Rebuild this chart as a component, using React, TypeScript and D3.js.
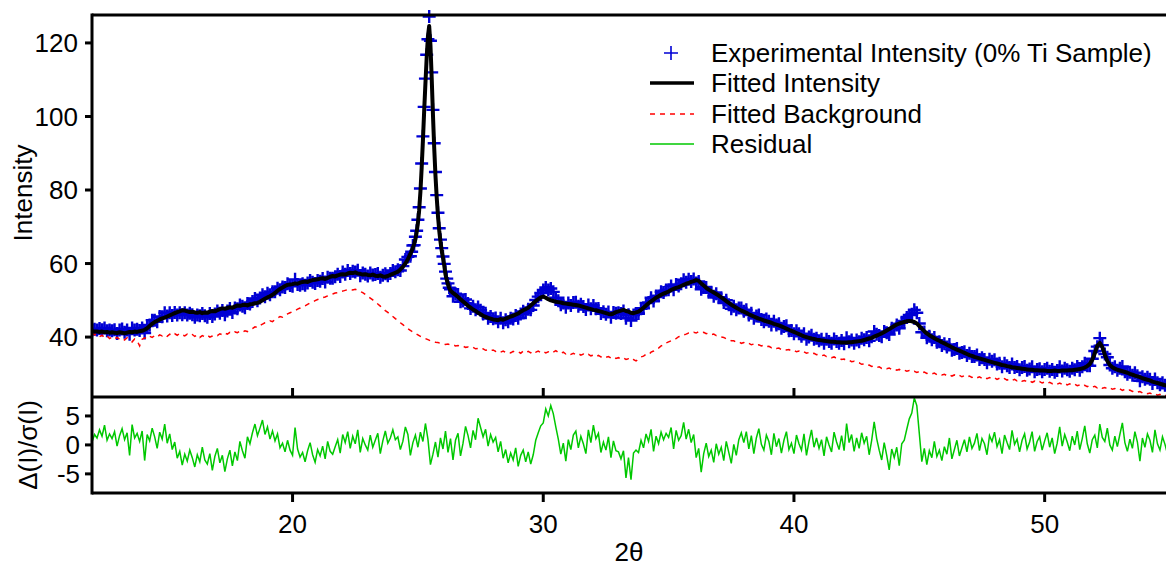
import React from 'react';
import * as d3 from 'd3';

// 2theta grids: 0.1 deg everywhere, 0.05 deg across the anatase (101) peak
const LEFT_START = 12.0;
const PEAK_START = 24.75;
const RIGHT_START = 26.3;
const STEP = 0.1;
const PEAK_STEP = 0.05;

// fitted intensity
const fitLeft = [
  41.6, 41.5, 41.5, 41.4, 41.5, 41.3, 41.4, 41.2, 41.3, 41.2,
  41.1, 41.3, 41.2, 41.0, 41.2, 41.4, 41.3, 41.5, 41.4, 41.6,
  41.7, 42.0, 42.4, 43.0, 43.6, 44.1, 44.4, 44.8, 45.1, 45.3,
  45.6, 45.9, 46.2, 46.5, 46.8, 47.0, 47.3, 47.2, 47.0, 46.8,
  46.9, 46.7, 46.6, 46.8, 46.5, 46.7, 46.6, 46.9, 47.1, 47.0,
  47.3, 47.6, 47.8, 47.7, 47.9, 48.1, 48.0, 48.3, 48.6, 48.5,
  48.7, 48.8, 48.6, 48.9, 49.0, 49.2, 49.3, 49.6, 50.0, 50.4,
  50.8, 51.1, 51.5, 52.0, 52.6, 53.1, 53.5, 53.9, 54.2, 54.3,
  54.4, 54.6, 54.5, 54.8, 55.0, 55.1, 55.0, 55.3, 55.5, 55.6,
  55.7, 55.9, 56.0, 55.8, 56.1, 56.4, 56.6, 56.5, 56.8, 57.0,
  57.1, 57.0, 57.3, 57.5, 57.4, 57.6, 57.3, 57.2, 57.0, 57.1,
  56.9, 56.8, 57.0, 56.7, 56.6, 56.8, 56.5, 56.4, 56.6, 56.9,
  57.2, 57.5, 57.8, 58.4, 59.1, 60.0, 61.2, 62.6,
];
const fitPeak = [
  63.4, 64.3, 65.3, 66.6, 68.5, 71.0, 74.5, 79.5, 86.0, 93.5,
  101.5, 109.0, 116.0, 121.8, 124.6, 119.5, 110.5, 100.5, 91.5, 84.0,
  78.0, 73.0, 69.0, 66.0, 63.5, 61.5, 59.5, 57.0, 55.6, 54.3, 53.3,
];
const fitRight = [
  52.6, 52.0, 51.5, 50.9, 50.3, 49.7, 49.1,
  48.5, 48.0, 47.5, 47.1, 46.6, 46.2, 45.8, 45.5, 45.2, 45.0,
  44.8, 44.7, 44.6, 44.9, 44.7, 45.0, 45.3, 45.6, 45.8, 46.1,
  46.4, 46.9, 47.3, 47.6, 48.0, 48.6, 49.2, 49.8, 50.3, 50.8,
  51.0, 50.7, 50.3, 50.0, 49.8, 49.6, 49.5, 49.4, 49.2, 49.1,
  49.0, 48.9, 48.8, 48.7, 48.6, 48.4, 48.2, 48.0, 47.8, 47.6,
  47.4, 47.3, 47.1, 46.9, 46.7, 46.5, 46.3, 46.2, 46.4, 46.8,
  47.0, 47.2, 47.4, 47.1, 46.9, 46.6, 46.5, 46.7, 46.9, 47.4,
  48.0, 48.6, 49.2, 49.7, 50.2, 50.7, 51.1, 51.5, 51.8, 52.1,
  52.4, 52.8, 53.1, 53.4, 53.6, 53.9, 54.2, 54.5, 54.7, 55.0,
  55.2, 55.5, 55.3, 54.6, 54.0, 53.4, 52.9, 52.5, 52.1, 51.7,
  51.3, 50.8, 50.3, 49.8, 49.3, 48.8, 48.4, 48.0, 47.6, 47.2,
  46.9, 46.6, 46.2, 45.9, 45.6, 45.3, 45.0, 44.8, 44.5, 44.3,
  44.1, 43.9, 43.6, 43.4, 43.2, 42.9, 42.6, 42.3, 42.0, 41.7,
  41.4, 41.1, 40.8, 40.5, 40.2, 40.0, 39.8, 39.6, 39.5, 39.3,
  39.2, 39.1, 39.0, 38.9, 38.8, 38.7, 38.7, 38.6, 38.6, 38.5,
  38.5, 38.5, 38.6, 38.6, 38.7, 38.8, 38.9, 39.0, 39.2, 39.4,
  39.6, 39.8, 40.1, 40.4, 40.7, 41.0, 41.4, 41.8, 42.2, 42.6,
  43.0, 43.4, 43.7, 43.9, 44.1, 44.3, 44.4, 44.3, 44.1, 43.7,
  43.0, 42.3, 41.6, 41.0, 40.5, 40.1, 39.7, 39.3, 39.0, 38.6,
  38.3, 37.9, 37.6, 37.2, 36.9, 36.6, 36.3, 36.0, 35.7, 35.4,
  35.1, 34.9, 34.6, 34.4, 34.2, 34.0, 33.8, 33.6, 33.4, 33.2,
  33.0, 32.8, 32.6, 32.4, 32.3, 32.1, 32.0, 31.8, 31.7, 31.6,
  31.5, 31.4, 31.3, 31.2, 31.1, 31.1, 31.0, 31.0, 30.9, 30.9,
  30.9, 30.8, 30.8, 30.8, 30.9, 30.8, 30.8, 30.9, 30.9, 30.9,
  31.0, 31.0, 31.1, 31.2, 31.3, 31.5, 31.7, 32.1, 32.7, 33.8,
  35.6, 37.6, 38.4, 37.3, 35.2, 33.5, 32.4, 31.8, 31.4, 31.1,
  30.9, 30.7, 30.5, 30.3, 30.0, 29.8, 29.5, 29.3, 29.1, 28.8,
  28.6, 28.4, 28.2, 27.9, 27.7, 27.5, 27.3, 27.1, 26.9, 26.7,
  26.5,
];

// experimental intensity
const obsLeft = [
  41.8, 42.1, 41.9, 42.3, 42.0, 42.5, 41.7, 41.9, 41.7, 42.0,
  41.0, 41.9, 42.2, 41.3, 41.9, 40.8, 42.5, 41.9, 42.1, 41.8,
  42.5, 41.1, 43.0, 43.3, 44.6, 44.6, 44.2, 45.6, 45.5, 46.6,
  45.7, 46.6, 45.9, 46.7, 46.0, 46.6, 46.1, 46.6, 46.0, 46.5,
  46.1, 45.4, 46.0, 45.8, 46.4, 45.8, 45.4, 46.4, 45.6, 46.3,
  47.1, 46.5, 47.2, 46.1, 47.1, 47.8, 46.7, 47.9, 47.7, 48.7,
  48.4, 48.0, 49.1, 49.0, 49.7, 50.5, 49.9, 50.6, 51.5, 51.0,
  51.9, 51.5, 52.3, 52.3, 53.3, 52.9, 53.6, 53.5, 54.5, 54.0,
  53.8, 55.7, 54.3, 54.1, 54.5, 54.1, 54.7, 55.4, 54.9, 54.6,
  55.4, 55.2, 55.9, 55.0, 56.3, 56.0, 56.0, 56.4, 57.1, 56.5,
  57.7, 57.1, 58.1, 57.3, 57.9, 57.7, 58.2, 56.7, 57.4, 57.1,
  56.6, 57.4, 56.9, 57.0, 57.3, 56.3, 56.8, 57.2, 56.7, 57.3,
  58.1, 57.8, 58.3, 58.1, 59.3, 61.1, 61.8, 62.0,
];
const obsPeak = [
  63.2, 64.9, 65.0, 67.3, 68.9, 71.9, 75.3, 80.4, 87.2, 94.6,
  102.6, 110.3, 116.8, 121.0, 127.2, 120.6, 112.0, 101.8, 92.7, 84.9,
  78.6, 73.8, 69.6, 66.5, 64.2, 61.9, 59.9, 57.8, 55.9, 54.6, 53.4,
];
const obsRight = [
  53.0, 51.1, 51.8, 51.6, 49.6, 49.8, 50.2,
  49.1, 47.8, 48.4, 47.4, 48.2, 47.3, 46.3, 46.5, 45.1, 45.6,
  45.0, 45.2, 44.2, 45.1, 43.9, 44.7, 44.2, 45.1, 44.9, 45.9,
  45.1, 46.3, 47.0, 46.6, 47.6, 47.4, 48.6, 50.1, 51.0, 52.0,
  52.8, 53.5, 52.8, 53.2, 52.3, 50.7, 49.9, 48.8, 49.3, 48.1,
  49.3, 48.6, 49.4, 49.5, 48.4, 48.9, 48.3, 47.5, 48.7, 47.7,
  48.6, 47.7, 47.8, 46.4, 46.9, 46.2, 46.8, 45.4, 46.7, 46.5,
  46.6, 46.4, 47.1, 45.1, 46.1, 44.5, 46.0, 46.4, 46.4, 47.7,
  47.8, 49.3, 49.4, 50.7, 49.8, 51.2, 51.2, 52.3, 52.1, 52.8,
  52.9, 53.9, 52.9, 54.3, 53.9, 54.5, 55.6, 54.9, 55.7, 55.1,
  55.8, 54.7, 55.1, 53.0, 53.5, 53.5, 52.2, 52.2, 51.1, 51.8,
  50.7, 50.7, 49.4, 50.0, 48.8, 47.7, 48.4, 47.4, 47.9, 47.9,
  47.0, 47.4, 46.0, 46.5, 45.1, 45.7, 46.0, 44.8, 44.2, 44.9,
  44.3, 43.3, 44.3, 43.3, 43.6, 42.4, 42.9, 43.1, 41.7, 41.8,
  40.9, 41.7, 40.9, 40.2, 40.9, 39.4, 40.0, 40.5, 39.4, 39.7,
  39.0, 39.4, 38.3, 39.4, 38.8, 38.3, 39.5, 38.8, 38.3, 39.1,
  38.2, 39.8, 38.7, 39.2, 38.3, 39.2, 38.7, 39.7, 39.3, 39.9,
  39.0, 40.1, 41.5, 40.8, 40.4, 40.1, 41.5, 41.2, 40.7, 42.4,
  42.2, 43.3, 42.4, 44.0, 44.4, 45.3, 46.0, 46.2, 47.4, 46.6,
  43.7, 41.3, 41.4, 39.8, 40.2, 39.3, 39.9, 38.6, 38.7, 37.7,
  38.2, 37.3, 38.0, 36.4, 36.6, 36.9, 35.6, 35.8, 36.0, 35.0,
  35.6, 34.7, 34.7, 35.1, 33.9, 34.4, 33.9, 33.0, 34.0, 33.4,
  33.8, 32.7, 32.9, 31.9, 32.9, 32.2, 31.7, 32.7, 31.7, 32.0,
  31.1, 31.7, 32.0, 31.0, 31.3, 31.9, 30.6, 31.2, 31.4, 30.6,
  31.2, 31.5, 30.7, 31.2, 30.4, 30.9, 31.9, 30.8, 31.5, 31.1,
  30.7, 31.5, 31.1, 32.0, 31.0, 31.9, 32.9, 32.2, 32.2, 34.1,
  36.2, 37.4, 39.7, 37.8, 35.4, 34.5, 32.4, 31.5, 31.9, 31.0,
  31.5, 32.0, 30.6, 29.9, 30.4, 29.6, 30.3, 29.5, 28.1, 29.2,
  28.5, 29.1, 28.5, 27.4, 28.6, 27.6, 27.0, 27.6, 26.9, 26.1,
  26.8,
];

// fitted background, 12.0–55.0
const background = [
  41.2, 40.6, 40.9, 40.1, 40.5, 39.8, 40.3, 39.6, 40.0, 39.5,
  39.9, 39.4, 39.7, 39.2, 39.8, 39.3, 38.7, 39.5, 39.0, 37.6,
  39.4, 39.8, 39.5, 40.2, 39.9, 40.4, 40.0, 40.6, 40.3, 40.7,
  40.2, 40.8, 40.4, 40.9, 40.5, 41.0, 40.6, 40.3, 40.8, 40.4,
  40.7, 40.2, 40.6, 39.9, 40.4, 40.1, 40.5, 40.0, 40.3, 40.6,
  40.4, 40.9, 40.6, 41.1, 40.8, 41.3, 41.0, 41.4, 41.2, 41.6,
  41.3, 41.7, 41.5, 42.0, 42.3, 42.8, 42.6, 43.2, 43.5, 43.9,
  44.0, 44.4, 44.2, 44.8, 45.1, 45.6, 45.4, 45.9, 46.3, 46.6,
  46.9, 47.2, 47.6, 47.9, 48.3, 48.5, 48.9, 49.3, 49.5, 49.9,
  50.2, 50.4, 50.7, 50.9, 51.2, 51.5, 51.7, 52.0, 52.1, 52.4,
  52.5, 52.7, 52.9, 53.0, 52.8, 53.0, 52.7, 52.4, 52.1, 51.6,
  51.1, 50.6, 50.1, 49.5, 49.0, 48.4, 47.8, 47.2, 46.7, 46.1,
  45.6, 45.0, 44.5, 43.9, 43.4, 42.8, 42.3, 41.8, 41.4, 41.0,
  40.6, 40.2, 39.9, 39.6, 39.3, 39.0, 38.8, 38.6, 38.5, 38.3,
  38.2, 38.0, 38.1, 37.8, 37.9, 37.6, 37.7, 37.4, 37.5, 37.2,
  37.3, 37.0, 37.2, 36.8, 36.9, 36.6, 36.8, 36.4, 36.6, 36.3,
  36.5, 36.1, 36.3, 35.9, 36.2, 35.8, 36.0, 35.7, 36.1, 35.8,
  36.0, 35.6, 36.2, 35.8, 36.1, 35.7, 36.3, 35.9, 36.2, 35.8,
  36.1, 35.7, 36.0, 35.6, 35.9, 36.3, 35.8, 35.5, 35.9, 35.4,
  35.7, 35.3, 35.6, 35.2, 35.5, 35.1, 35.4, 35.0, 35.3, 34.9,
  35.1, 34.7, 35.0, 34.6, 34.9, 34.5, 34.7, 34.3, 34.6, 34.2,
  34.4, 34.0, 34.3, 33.9, 34.1, 33.6, 33.9, 33.5, 34.0, 34.6,
  34.8, 35.3, 35.2, 35.9, 36.2, 36.8, 37.0, 37.6, 37.8, 38.4,
  38.7, 39.0, 39.5, 39.6, 40.1, 40.2, 40.6, 40.8, 41.1, 41.0,
  41.3, 41.1, 41.5, 41.2, 41.3, 40.9, 41.1, 40.7, 40.8, 40.4,
  40.3, 40.0, 39.9, 39.5, 39.4, 39.0, 39.0, 38.6, 38.7, 38.3,
  38.5, 38.1, 38.3, 37.9, 38.1, 37.7, 37.9, 37.6, 37.8, 37.4,
  37.5, 37.1, 37.3, 36.9, 37.0, 36.6, 36.8, 36.5, 36.6, 36.2,
  36.4, 36.0, 36.2, 35.8, 36.0, 35.6, 35.8, 35.4, 35.6, 35.2,
  35.3, 34.9, 35.1, 34.7, 34.8, 34.4, 34.6, 34.2, 34.3, 33.9,
  34.0, 33.6, 33.7, 33.3, 33.4, 33.0, 33.0, 32.6, 32.7, 32.3,
  32.4, 32.0, 32.1, 31.7, 31.9, 31.5, 31.7, 31.4, 31.6, 31.2,
  31.4, 31.0, 31.2, 30.8, 31.0, 30.7, 30.9, 30.5, 30.7, 30.4,
  30.6, 30.2, 30.5, 30.1, 30.3, 30.0, 30.2, 29.8, 30.0, 29.7,
  29.9, 29.5, 29.8, 29.4, 29.7, 29.3, 29.6, 29.2, 29.5, 29.1,
  29.4, 29.0, 29.3, 28.9, 29.2, 28.8, 29.1, 28.7, 29.0, 28.6,
  28.9, 28.5, 28.8, 28.4, 28.7, 28.3, 28.6, 28.2, 28.5, 28.1,
  28.4, 28.0, 28.2, 27.8, 28.1, 27.7, 28.0, 27.6, 27.9, 27.5,
  27.8, 27.4, 27.7, 27.3, 27.6, 27.2, 27.5, 27.1, 27.4, 27.0,
  27.3, 26.9, 27.2, 26.8, 27.0, 26.6, 26.9, 26.5, 26.8, 26.4,
  26.6, 26.2, 26.5, 26.1, 26.3, 25.9, 26.2, 25.8, 26.0, 25.6,
  25.9, 25.5, 25.8, 25.4, 25.6, 25.2, 25.4, 25.0, 25.2, 24.8,
  25.0, 24.6, 24.8, 24.4, 24.6, 24.2, 24.4, 24.0, 24.2, 23.9,
  24.0,
];

// residual delta(I)/sigma(I), 12.0–55.0
const residual = [
  0.5, 1.8, 1.2, 2.6, 1.5, 3.4, 0.8, 1.9, 1.1, 2.3,
  -0.2, 1.6, 2.8, 0.9, 2.1, -1.8, 3.5, 1.2, 2.0, 0.6,
  2.4, -2.7, 1.8, 0.7, 2.9, 1.4, -0.6, 2.2, 1.0, 3.6,
  0.3, 1.9, -0.8, 0.5, -2.3, -1.1, -3.5, -1.6, -2.8, -0.9,
  -2.2, -3.8, -1.7, -2.9, -0.4, -2.6, -3.3, -1.5, -4.4, -2.0,
  -0.6, -3.1, -1.8, -4.6, -2.4, -0.9, -3.6, -1.2, -2.7, 0.6,
  -1.0, -2.3, 1.4, 0.2, 2.1, 3.6, 1.6, 2.9, 4.3, 1.8,
  3.1, 1.0, 2.4, 0.7, 1.9, -0.5, 0.3, -1.2, 0.8, -0.9,
  -1.8, 3.0, -0.7, -2.1, -1.3, -2.9, -1.0, 0.4, -1.7, -3.0,
  -0.8, -1.9, -0.2, -2.4, 0.6, -1.1, -1.6, -0.3, 0.9, -1.4,
  1.8, 0.4, 2.3, -0.6, 1.5, 0.2, 2.6, -1.3, 1.1, 0.0,
  -0.9, 1.7, -0.4, 0.8, 2.0, -1.5, 0.7, 2.4, 0.3, 1.2,
  2.6, 0.9, 1.4, -0.8, 0.6, 3.1, 1.8, -1.8, 0.4, 1.7,
  -0.4, 2.2, 0.6, 3.7, 1.0, -3.4, -1.6, 0.5, -2.1, 1.2,
  -0.7, 2.4, -1.3, 1.1, -2.6, 0.8, 2.0, -1.9, 0.3, 3.2,
  1.6, -0.5, 2.5, 0.9, 4.6, 3.0, 1.4, 2.7, -0.2, 1.8,
  0.5, 1.3, -1.2, 0.6, -2.3, -0.8, -3.1, -1.4, -2.6, -0.5,
  -3.7, -1.8, -0.9, -2.9, -1.2, -3.3, -1.7, 0.8, 2.1, 3.3,
  3.8, 6.2, 5.0, 6.8, 5.4, 3.1, 1.0, -1.6, 0.3, -2.8,
  0.9, -0.8, 1.7, 2.4, -0.5, 1.5, 0.2, -1.5, 2.6, 0.4,
  3.4, 1.1, 2.0, -1.3, 0.5, -0.9, 1.4, -2.2, 0.7, -1.0,
  -1.2, -2.4, -1.0, -5.7, -2.2, -6.0, -1.4, -0.9, -1.3, 0.8,
  -0.5, 1.9, 0.6, 2.7, -1.1, 1.5, 0.2, 2.2, 0.9, 2.0,
  1.3, 3.0, -0.7, 2.5, 0.8, 1.6, 3.9, 1.0, 2.7, 0.4,
  1.8, -2.2, -0.6, -4.7, -1.5, 0.3, -2.0, -0.9, -3.0, 0.2,
  -1.6, -0.4, -2.7, 0.6, -1.3, -3.2, 0.1, -1.8, 0.9, 2.1,
  0.4, 2.3, -0.7, 1.6, -1.5, 1.2, 2.8, 0.1, -0.9, 1.7,
  0.6, -1.7, 2.0, -0.3, 1.1, -1.4, 0.8, 2.3, -0.8, 0.3,
  -1.5, 1.7, 0.2, -0.9, 1.9, -1.8, 0.6, 2.6, -0.4, 1.2,
  -0.6, 0.9, -1.9, 1.4, 0.0, -1.2, 2.2, 0.5, -0.8, 1.6,
  -1.0, 3.7, 0.4, 1.8, -1.1, 1.2, -0.6, 2.1, 0.3, 1.5,
  -1.7, 0.8, 4.0, 1.1, -0.9, -2.6, 0.4, -1.8, -4.3, -0.7,
  -2.2, -0.4, -3.6, 0.2, 0.8, 2.7, 4.5, 5.5, 8.1, 6.8,
  2.0, -2.9, -0.6, -3.4, -1.0, -2.2, 0.6, -2.0, -0.9, -2.7,
  -0.3, -1.6, 1.2, -2.4, -0.8, 0.8, -1.9, -0.5, 0.9, -1.2,
  1.4, -0.6, 0.3, 2.0, -1.0, 1.1, 0.2, -1.7, 1.6, 0.6,
  2.2, -0.3, 0.9, -1.5, 1.7, 0.4, -0.8, 2.5, 0.1, 1.0,
  -1.2, 0.8, 1.9, -0.7, 0.5, 2.3, -1.1, 0.6, 1.4, -0.9,
  0.7, 2.1, -0.4, 1.2, -1.5, 0.3, 3.1, -0.2, 1.8, 0.5,
  -1.0, 1.5, 0.0, 2.4, -0.8, 1.1, 3.3, 0.2, -1.4, 0.9,
  1.7, -0.5, 3.6, 1.3, 0.6, 2.9, 0.0, -0.9, 1.5, -0.3,
  1.8, 3.8, 0.4, -1.1, 1.0, -0.6, 2.3, 0.5, -2.8, 1.2,
  -0.4, 1.9, 0.8, -1.3, 2.6, 0.2, -0.9, 1.4, 0.1, -1.6,
  0.8,
];

const xTicks = [20, 30, 40, 50];
const intensityTicks = [40, 60, 80, 100, 120];
const residualTicks = [-5, 0, 5];
const legendLabels = [
  'Experimental Intensity (0% Ti Sample)',
  'Fitted Intensity',
  'Fitted Background',
  'Residual',
];

type Pt = [number, number];
const onGrid = (start: number, step: number, ys: number[]): Pt[] =>
  ys.map((v, i) => [start + i * step, v] as Pt);

const fitted: Pt[] = [
  ...onGrid(LEFT_START, STEP, fitLeft),
  ...onGrid(PEAK_START, PEAK_STEP, fitPeak),
  ...onGrid(RIGHT_START, STEP, fitRight),
];
const observed: Pt[] = [
  ...onGrid(LEFT_START, STEP, obsLeft),
  ...onGrid(PEAK_START, PEAK_STEP, obsPeak),
  ...onGrid(RIGHT_START, STEP, obsRight),
];
const bgPts = onGrid(LEFT_START, STEP, background);
const resPts = onGrid(LEFT_START, STEP, residual);

const FONT = '"Liberation Sans", Arial, sans-serif';
const BLUE = '#0000d4';
const RED = '#ff0000';
const GREEN = '#00c800';

export default function App() {
  const width = 1166;
  const height = 567;
  const left = 92;
  const right = 1170;
  const top = 15;
  const mid = 397;
  const bottom = 493;
  const fs = 26;

  const x = d3.scaleLinear().domain([12, 55]).range([left, right]);
  const y = d3.scaleLinear().domain([23.7, 127.6]).range([mid, top]);
  const yr = d3.scaleLinear().domain([-8.3, 8.1]).range([bottom, mid + 1]);

  const lineMain = d3.line<Pt>().x(d => x(d[0])).y(d => y(d[1]));
  const lineRes = d3.line<Pt>().x(d => x(d[0])).y(d => yr(d[1]));

  const plus = (cx: number, cy: number, arm: number) =>
    `M${cx - arm},${cy}h${arm * 2}M${cx},${cy - arm}v${arm * 2}`;
  const markers = observed.map(d => plus(x(d[0]), y(d[1]), 6.5)).join('');

  const legendY = [53, 83, 114, 144];
  const lx0 = 650;
  const lx1 = 694;
  const tx = 711;

  return (
    <svg
      width={width}
      height={height}
      style={{ position: 'absolute', left: 0, top: 0, background: '#fff' }}
      fontFamily={FONT}
    >
      <defs>
        <clipPath id="mainClip">
          <rect x={left} y={4} width={width - left} height={mid - 4} />
        </clipPath>
        <clipPath id="resClip">
          <rect x={left} y={mid} width={width - left} height={bottom - mid} />
        </clipPath>
      </defs>

      <g clipPath="url(#mainClip)">
        <path d={markers} fill="none" stroke={BLUE} strokeWidth={2.4} />
        <path d={lineMain(bgPts) || ''} fill="none" stroke={RED} strokeWidth={1.5} strokeDasharray="5,5" />
        <path d={lineMain(fitted) || ''} fill="none" stroke="#000" strokeWidth={4} strokeLinejoin="round" />
      </g>

      <g clipPath="url(#resClip)">
        <path d={lineRes(resPts) || ''} fill="none" stroke={GREEN} strokeWidth={1.5} />
      </g>

      {/* frame */}
      <g stroke="#000" strokeWidth={3} fill="none">
        <line x1={left} x2={width} y1={top} y2={top} />
        <line x1={left} x2={width} y1={mid} y2={mid} />
        <line x1={left} x2={width} y1={bottom} y2={bottom} />
        <line x1={left} x2={left} y1={top - 1.5} y2={bottom + 1.5} />
      </g>

      {/* intensity axis */}
      {intensityTicks.map(t => (
        <g key={'yi' + t}>
          <line x1={left - 7} x2={left} y1={y(t)} y2={y(t)} stroke="#000" strokeWidth={3} />
          <text x={78} y={y(t)} dy="0.36em" textAnchor="end" fontSize={fs}>{t}</text>
        </g>
      ))}

      {/* residual axis */}
      {residualTicks.map(t => (
        <g key={'yr' + t}>
          <line x1={left - 7} x2={left} y1={yr(t)} y2={yr(t)} stroke="#000" strokeWidth={3} />
          <text x={80} y={yr(t)} dy="0.36em" textAnchor="end" fontSize={fs}>{t}</text>
        </g>
      ))}

      {/* 2theta axis */}
      {xTicks.map(t => (
        <g key={'x' + t}>
          <line x1={x(t)} x2={x(t)} y1={mid - 9} y2={mid} stroke="#000" strokeWidth={3} />
          <line x1={x(t)} x2={x(t)} y1={bottom} y2={bottom + 9} stroke="#000" strokeWidth={3} />
          <text x={x(t)} y={533} textAnchor="middle" fontSize={fs}>{t}</text>
        </g>
      ))}

      <text transform="translate(32,193) rotate(-90)" textAnchor="middle" fontSize={fs}>Intensity</text>
      <text transform="translate(37,445) rotate(-90)" textAnchor="middle" fontSize={fs}>Δ(I)/σ(I)</text>
      <text x={629} y={561} textAnchor="middle" fontSize={fs}>2θ</text>

      {/* legend */}
      <path d={plus(671, legendY[0], 7)} stroke={BLUE} strokeWidth={1.6} fill="none" />
      <line x1={lx0} x2={lx1} y1={legendY[1]} y2={legendY[1]} stroke="#000" strokeWidth={3.5} />
      <line x1={lx0} x2={lx1} y1={legendY[2]} y2={legendY[2]} stroke={RED} strokeWidth={1.5} strokeDasharray="5,5" />
      <line x1={lx0} x2={lx1} y1={legendY[3]} y2={legendY[3]} stroke={GREEN} strokeWidth={1.5} />
      {legendLabels.map((l, i) => (
        <text key={l} x={tx} y={legendY[i]} dy="0.36em" fontSize={fs}>{l}</text>
      ))}
    </svg>
  );
}
